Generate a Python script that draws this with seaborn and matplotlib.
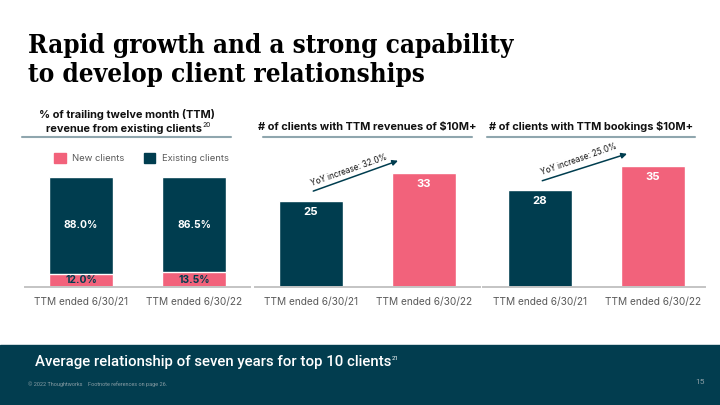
import numpy as np
import matplotlib
matplotlib.use("Agg")
import matplotlib.pyplot as plt
from matplotlib.lines import Line2D
from matplotlib.patches import Patch, Rectangle
import seaborn as sns

# data
periods = ["TTM ended 6/30/21", "TTM ended 6/30/22"]
new_share = [12.0, 13.5]
existing_share = [88.0, 86.5]
clients_rev_10m = [25, 33]
clients_book_10m = [28, 35]
yoy_rev = 32.0
yoy_book = 25.0

DARK = "#003d4f"
PINK = "#f2627b"
GRAY = "#5a5a5a"
RULE = "#8fa6ae"

sns.set_theme(style="white")
plt.rcParams["font.family"] = ["Inter", "DejaVu Sans"]

W, H = 720, 405
fig = plt.figure(figsize=(7.2, 4.05), dpi=100)


def fx(x):
    return x / W


def fy(y):
    return 1 - y / H


def px_axes(x0, x1, top, base=287):
    return fig.add_axes([fx(x0), fy(base), (x1 - x0) / W, (base - top) / H])


# title (slab-ish serif, sized so the first line spans ~487px)
titles = []
for yy, line in [(53, "Rapid growth and a strong capability"),
                 (82, "to develop client relationships")]:
    titles.append(fig.text(fx(28), fy(yy), line, fontsize=20, fontweight="bold",
                           family="DejaVu Serif", fontstretch="condensed",
                           color="black"))
fig.canvas.draw()
scale = 487 / titles[0].get_window_extent().width
for t in titles:
    t.set_fontsize(20 * scale)

# panel headers + rules
hdr = dict(fontsize=7.9, fontweight="bold", color="#111111", ha="center", va="center")
fig.text(fx(127), fy(115), "% of trailing twelve month (TTM)", **hdr)
t = fig.text(fx(124), fy(129), "revenue from existing clients", **hdr)
fig.canvas.draw()
bb = t.get_window_extent()
fig.text(bb.x1 / W + 0.001, fy(125), "20", fontsize=4.8, color="#111111", va="center")
fig.text(fx(367), fy(127), "# of clients with TTM revenues of $10M+", **hdr)
fig.text(fx(591), fy(127), "# of clients with TTM bookings $10M+", **hdr)
for x0, x1 in [(22, 231), (263, 472), (487, 695)]:
    fig.add_artist(Line2D([fx(x0), fx(x1)], [fy(137), fy(137)], color=RULE,
                          lw=1.5, transform=fig.transFigure))


def style(ax, xlim, ylim):
    ax.set_xlim(*xlim)
    ax.set_ylim(*ylim)
    ax.set_yticks([])
    ax.set_xlabel("")
    ax.set_ylabel("")
    for s in ["left", "top", "right"]:
        ax.spines[s].set_visible(False)
    ax.spines["bottom"].set_color("#c4c4c4")
    ax.spines["bottom"].set_linewidth(1.4)
    ax.tick_params(axis="x", length=0, pad=7.5, labelsize=7.3, labelcolor=GRAY)
    ax.patch.set_alpha(0)


BW = 0.57

# panel 1: stacked share
ax1 = px_axes(25, 250, 177)
totals = np.add(new_share, existing_share)
sns.barplot(x=periods, y=totals, color=DARK, saturation=1, width=BW, ax=ax1)
sns.barplot(x=periods, y=new_share, color=PINK, saturation=1, width=BW, ax=ax1)
style(ax1, (-0.496, 1.496), (0, 100))
for i, (n, e) in enumerate(zip(new_share, existing_share)):
    ax1.text(i, n + e / 2, f"{e:.1f}%", color="white", fontsize=7.4,
             fontweight="bold", ha="center", va="center")
    ax1.text(i, n / 2, f"{n:.1f}%", color=DARK, fontsize=7.4,
             fontweight="bold", ha="center", va="center")
ax1.legend(handles=[Patch(color=PINK, label="New clients"),
                    Patch(color=DARK, label="Existing clients")],
           ncol=2, frameon=False, loc="center left",
           bbox_to_anchor=(fx(54), fy(158)), bbox_transform=fig.transFigure,
           handlelength=1.25, handleheight=1.25, handletextpad=0.7,
           columnspacing=2.0, fontsize=6.8, labelcolor=GRAY, borderaxespad=0,
           borderpad=0)


def count_panel(x0, x1, xmin, values, yoy):
    ax = px_axes(x0, x1, 287 - 40 * 3.45)
    sns.barplot(x=periods, y=values, hue=periods, palette=[DARK, PINK],
                saturation=1, width=BW, legend=False, ax=ax)
    style(ax, (xmin, xmin + (x1 - x0) / 113), (0, 40))
    for i, v in enumerate(values):
        ax.text(i, v - 3.2, f"{v}", color="white", fontsize=8.2,
                fontweight="bold", ha="center", va="center")
    ax.annotate("", xy=(0.77, values[1] + 3.6), xytext=(0.02, values[0] + 2.8),
                arrowprops=dict(arrowstyle="-|>", color=DARK, lw=1.1,
                                mutation_scale=8, shrinkA=0, shrinkB=0),
                annotation_clip=False)
    ax.text(0.34, values[0] + 8.9, f"YoY increase: {yoy:.1f}%", rotation=19.5,
            rotation_mode="anchor", ha="center", va="center", fontsize=5.8,
            color="#111111")
    return ax


count_panel(255, 480, (255 - 311) / 113, clients_rev_10m, yoy_rev)
count_panel(483, 705, (483 - 540) / 113, clients_book_10m, yoy_book)

# bottom band
fig.add_artist(Rectangle((0, 0), 1, fy(345), transform=fig.transFigure,
                         color="#023d4f", zorder=0))
b = fig.text(fx(35), fy(362), "Average relationship of seven years for top 10 clients",
             fontsize=10.8, family=["Roboto", "DejaVu Sans"], fontweight="medium",
             color="white", va="center")
fig.canvas.draw()
bb = b.get_window_extent()
fig.text(bb.x1 / W + 0.001, fy(358), "21", fontsize=4.5, color="white", va="center",
         family=["Roboto", "DejaVu Sans"])
fig.text(fx(28), fy(384), "\u00a9 2022 Thoughtworks    Footnote references on page 26.",
         fontsize=4.0, color="#8a9ea5", va="center", family=["Roboto", "DejaVu Sans"])
fig.text(fx(705), fy(382), "15", fontsize=6, color="#8a9ea5", va="center",
         ha="right", family=["Roboto", "DejaVu Sans"])

fig.savefig("out.png", dpi=100)
